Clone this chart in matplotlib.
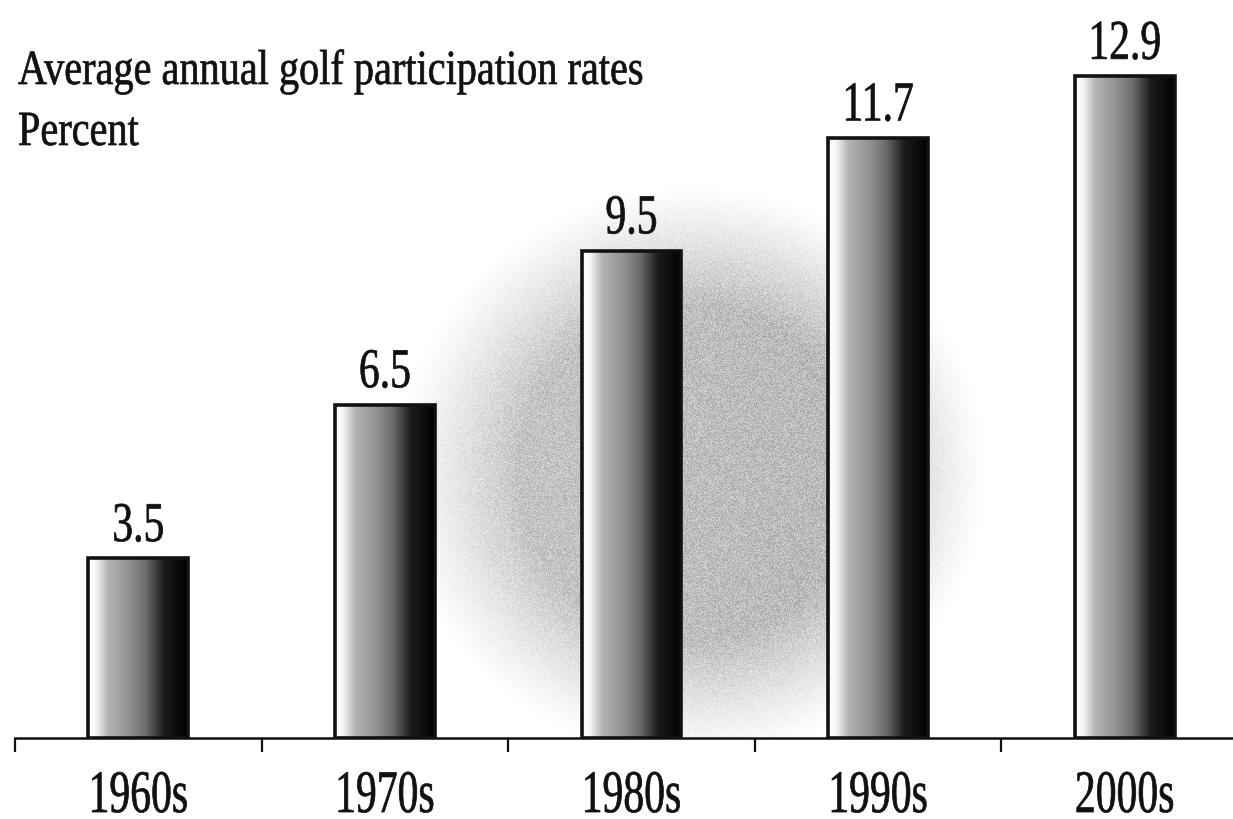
import matplotlib
matplotlib.use("Agg")
import matplotlib.pyplot as plt
import numpy as np
from matplotlib import patheffects
from matplotlib.colors import LinearSegmentedColormap
from matplotlib.transforms import Affine2D

decades = ["1960s", "1970s", "1980s", "1990s", "2000s"]
rates = [3.5, 6.5, 9.5, 11.7, 12.9]
title_lines = ["Average annual golf participation rates", "Percent"]

plt.rcParams["font.family"] = ["Liberation Serif", "DejaVu Serif"]

INK = "#111111"
BAR_W = 0.405
XLIM = (-0.5, -0.5 + 1218 / 246.6)
YLIM = (0, 738 / 51.3)


class Tall(patheffects.AbstractPathEffect):
    """Draw glyph outlines stretched vertically about the baseline, lightly stroked."""

    def __init__(self, sy, lw=0.5):
        super().__init__()
        self._sy = sy
        self._lw = lw

    def draw_path(self, renderer, gc, tpath, affine, rgbFace=None):
        gc0 = renderer.new_gc()
        gc0.copy_properties(gc)
        gc0.set_linewidth(self._lw)
        if rgbFace is not None:
            gc0.set_foreground(rgbFace)
        renderer.draw_path(gc0, tpath, Affine2D().scale(1, self._sy) + affine, rgbFace)
        gc0.restore()


# white edge -> mid grey -> black shading across each bar
shade = LinearSegmentedColormap.from_list(
    "shade",
    [(0.0, "#ffffff"), (0.08, "#f6f6f6"), (0.2, "#b4b4b4"), (0.42, "#909090"),
     (0.58, "#6c6c6c"), (0.76, "#1c1c1c"), (1.0, "#000000")],
)

fig = plt.figure(figsize=(12.33, 8.19), dpi=100)
ax = fig.add_axes([15 / 1233, 1 - 738 / 819, 1 - 15 / 1233, 738 / 819])

# speckled grey cloud behind the middle bars
nx, ny = 1218, 738
gx, gy = np.meshgrid(np.linspace(0, 1, nx), np.linspace(0, 1, ny))
dx = (gx - 0.555) / 0.225
dy = (gy - 0.36) / 0.36
r = np.sqrt(dx ** 2 + dy ** 2)
alpha = np.clip((1.08 - r) / 0.45, 0, 1) ** 1.2 * 0.58
alpha *= 0.82 + 0.18 * np.clip((gx - 0.35) / 0.3, 0, 1)
grain = np.random.default_rng(7).uniform(0.6, 1.25, size=(ny, nx))
alpha = np.clip(alpha * grain, 0, 0.72)
cloud = np.zeros((ny, nx, 4))
cloud[..., :3] = 0.5
cloud[..., 3] = alpha
ax.imshow(cloud, extent=(0, 1, 0, 1), transform=ax.transAxes, origin="lower",
          aspect="auto", interpolation="nearest", zorder=0)

x = np.arange(len(decades))
bars = ax.bar(x, rates, BAR_W, facecolor="none", edgecolor=INK, linewidth=2.6, zorder=3)
ramp = np.linspace(0, 1, 256).reshape(1, -1)
for bar in bars:
    x0, w, h = bar.get_x(), bar.get_width(), bar.get_height()
    im = ax.imshow(ramp, cmap=shade, extent=(x0, x0 + w, 0, h), aspect="auto",
                   interpolation="bicubic", zorder=2)
    im.set_clip_path(bar)
    ax.annotate(f"{h:.1f}", (x0 + w / 2, h), xytext=(0, 12.5), textcoords="offset points",
                ha="center", va="baseline", fontsize=30, color=INK,
                path_effects=[Tall(1.35)])

# boundary ticks between decades, labels centred under each bar
ax.set_xticks(np.arange(len(decades) + 1) - 0.5)
ax.set_xticklabels([])
ax.set_xticks(x, minor=True)
ax.set_xticklabels(decades, minor=True)
ax.set_xlim(*XLIM)
ax.set_ylim(*YLIM)
ax.tick_params(axis="x", which="major", length=10, width=1.6, color=INK, direction="out")
ax.tick_params(axis="x", which="minor", length=0, pad=53.3, labelsize=30, labelcolor=INK)
for lbl in ax.get_xticklabels(minor=True):
    lbl.set_va("baseline")
    lbl.set_path_effects([Tall(1.45)])
ax.set_yticks([])
for side in ("left", "right", "top"):
    ax.spines[side].set_visible(False)
ax.spines["bottom"].set_linewidth(1.8)
ax.spines["bottom"].set_color(INK)
ax.patch.set_alpha(0)

fig.text(18 / 1233, 1 - 84 / 819, title_lines[0], fontsize=29, color=INK,
         va="baseline", path_effects=[Tall(1.22)])
fig.text(18 / 1233, 1 - 145 / 819, title_lines[1], fontsize=29, color=INK,
         va="baseline", path_effects=[Tall(1.22)])

fig.savefig("out.png", dpi=100)
